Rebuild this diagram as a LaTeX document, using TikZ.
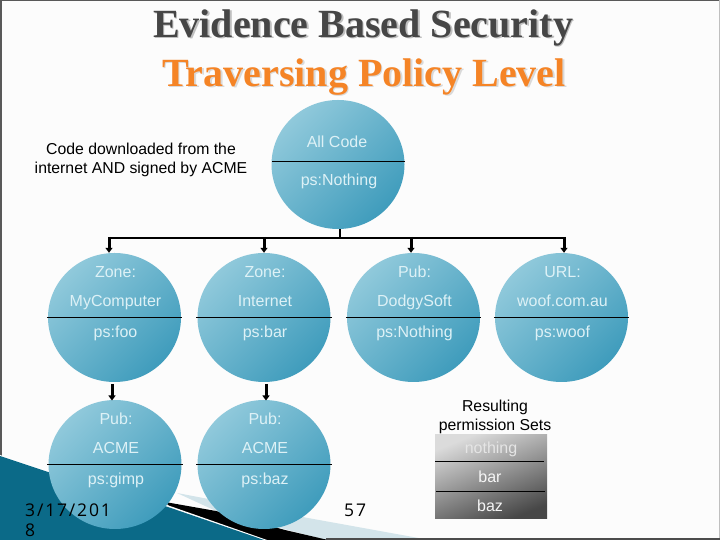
\documentclass[tikz,border=0pt]{standalone}
\usepackage{fontspec}
\setmainfont{Liberation Sans}
\newfontfamily\titlefont{Liberation Serif}
\newfontfamily\datefont[LetterSpace=10.5]{Open Sans}
\usetikzlibrary{shadings,arrows.meta,shapes.geometric}
\definecolor{teal1}{HTML}{90C9DB}
\definecolor{teal2}{HTML}{3F9CBC}
\definecolor{bandlight}{HTML}{D3E4EA}
\definecolor{swdark}{HTML}{0B6A88}
\definecolor{swmid}{HTML}{3FA3C6}
\definecolor{paper}{HTML}{FCFCFC}
\definecolor{ttlorange}{HTML}{F58426}
\definecolor{ttlgray}{HTML}{464646}
\definecolor{labtext}{HTML}{DDF1F6}
\tikzset{
 x=1pt,y=1pt,
 bub/.style={ellipse,minimum width=133pt,minimum height=129pt,inner sep=0pt,shading=axis,left color=teal1,right color=teal2,shading angle=45},
 lab/.style={font=\fontsize{16}{16}\selectfont,text=labtext,inner sep=0pt,anchor=base},
 sep/.style={line width=1pt,black},
 bus/.style={line width=2.3pt,black},
 drop/.style={line width=3pt,black,-{Triangle[length=5pt,width=7pt]}},
 note/.style={font=\fontsize{15.8}{19}\selectfont,align=center,text=black,inner sep=0pt},
 ttl/.style={font=\titlefont\bfseries\fontsize{40}{40}\selectfont,inner sep=0pt},
 dt/.style={font=\datefont\fontsize{17.5}{21}\selectfont,text=black,inner sep=0pt,anchor=base west},
}
\newcommand{\bubble}[9]{% name,x,y,l1,l2,l3,baselines
 \node[bub] (#1) at (#2,#3) {};
 \draw[sep] ([xshift=-1pt]#1.west) -- ([xshift=1pt]#1.east);
 \node[lab] (#1a) at (#2+1,#7) {#4};
 \node[lab] (#1b) at (#2+1,#8) {#5};
 \node[lab] (#1c) at (#2+1,#9) {#6};
}
\begin{document}
\begin{tikzpicture}
\useasboundingbox (0,0) rectangle (720,540);
\fill[paper] (0,0) rectangle (720,540);
\fill[gray!70!black] (0,539) rectangle (720,540);
\fill[gray!70!black] (0,84) rectangle (1.5,540);
\fill[black!25] (719,0) rectangle (720,540);
% swoosh
\fill[bandlight] (177,47) -- (308,22) -- (424,1) -- (326,0) -- (216,29) -- cycle;
\fill[black] (165,38) -- (216,29) -- (285,10) -- (328,0) -- (264,0) -- (170,33) -- cycle;
\fill[gray!60!black] (326,0) rectangle (720,1.5);
\fill[white] (0,85) -- (48,69) -- (170,34) -- (267,0) -- (260,0) -- (0,82) -- cycle;
\shade[left color=swdark,middle color=swmid,right color=swdark] (0,84) -- (48,68) -- (168,33) -- (264,0) -- (0,0) -- cycle;
% bubbles
\node[bub] (root) at (338,375.5) {};
\draw[sep] (272,378) coordinate (rl) -- (404.5,378) coordinate (rr);
\node[lab] (r1) at (337,392) {All Code};
\node[lab] (r2) at (339,354) {ps:Nothing};
\bubble{a}{114.5}{222.5}{Zone:}{MyComputer}{ps:foo}{262}{233}{202}
\bubble{b}{264}{222.5}{Zone:}{Internet}{ps:bar}{262}{233}{202}
\bubble{c}{413.5}{222.5}{Pub:}{DodgySoft}{ps:Nothing}{262}{233}{202}
\bubble{d}{561.5}{222.5}{URL:}{woof.com.au}{ps:woof}{262}{233}{202}
\bubble{e}{115}{75.5}{Pub:}{ACME}{ps:gimp}{115}{86}{55}
\bubble{f}{264}{75.5}{Pub:}{ACME}{ps:baz}{115}{86}{55}
% connectors
\coordinate (j) at (340,302);
\draw[line width=2pt] (root.south -| j) -- (j);
\draw[bus] (108,302) coordinate (ja0) -- (565,302) coordinate (jd0);
\coordinate (ja) at (109,303); \coordinate (jb) at (264,303);
\coordinate (jc) at (411,303); \coordinate (jd) at (564,303);
\draw[drop] (ja) -- (a.north -| ja);
\draw[drop] (jb) -- (b.north -| jb);
\draw[drop] (jc) -- (c.north -| jc);
\draw[drop] (jd) -- (d.north -| jd);
\coordinate (ka) at (112,156); \coordinate (kb) at (266,156);
\draw[drop] (ka) -- (112,139.5);
\draw[drop] (kb) -- (266,139.5);
% notes
\node[note] (n1) at (141,380.5) {Code downloaded from the\\internet AND signed by ACME};
\node[note] (n2) at (495,123) {Resulting\\permission Sets};
% permission box
\node[rectangle,minimum width=112pt,minimum height=84pt,inner sep=0pt,shading=axis,left color=black!14,right color=black!72,shading angle=22] (pb) at (491,63) {};
\node[lab,text=black!10] (p1) at (491,86) {nothing};
\node[lab,text=black!4] (p2) at (490,57) {bar};
\node[lab,text=black!4] (p3) at (490,28) {baz};
\draw[sep] (435,78) -- (544,78);
\draw[sep] (436,48) -- (545,48);
% title
\node[ttl,text=black!25,anchor=base] at (364.5,501) {Evidence Based Security};
\node[ttl,text=ttlgray,anchor=base] (t1) at (363,502.5) {Evidence Based Security};
\node[ttl,text=black!15,anchor=base] at (365.5,452) {Traversing Policy Level};
\node[ttl,text=ttlorange,anchor=base] (t2) at (364,453.5) {Traversing Policy Level};
% date
\node[dt] (date) at (25,23) {3/17/201};
\node[dt] (date2) at (25,3) {8};
\node[dt] (pg) at (344,23) {57};
\end{tikzpicture}
\end{document}
